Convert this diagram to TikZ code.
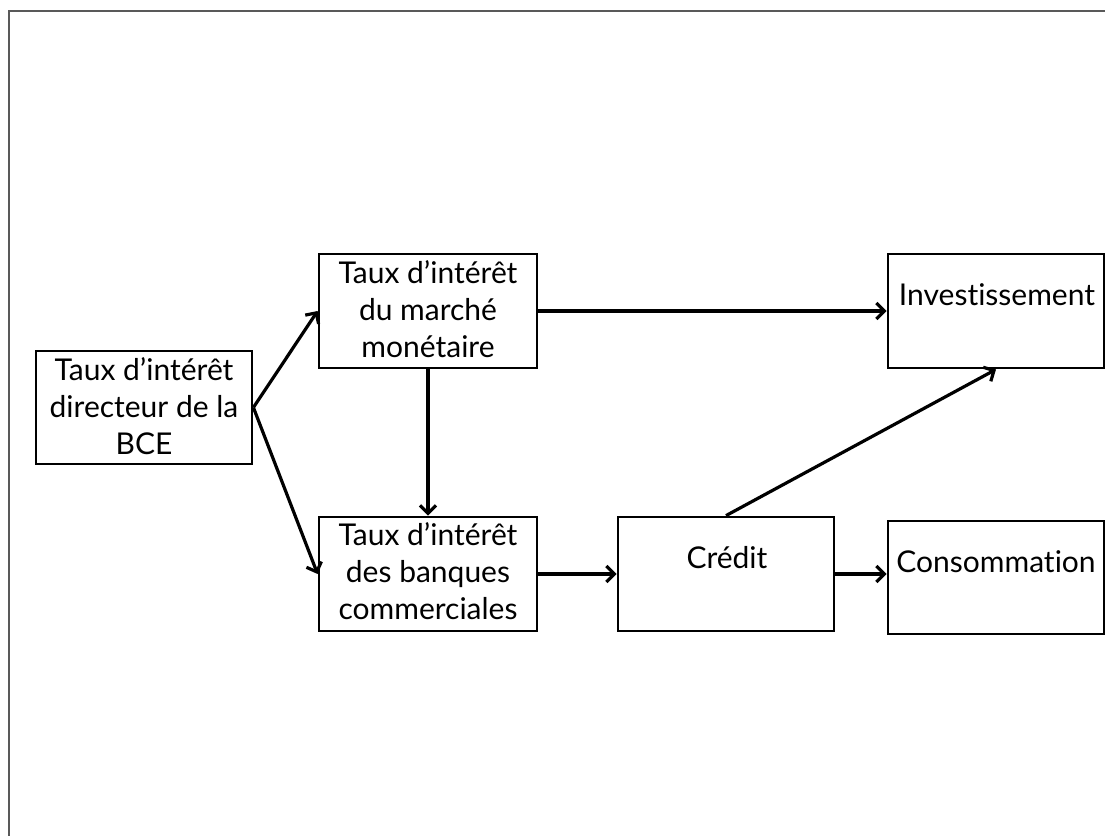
\documentclass[tikz,border=0pt]{standalone}
\usepackage{fontspec}
\setmainfont{Lato}[Ligatures={NoCommon}]
\usetikzlibrary{arrows.meta}
\begin{document}
\begin{tikzpicture}[x=1pt,y=-1pt,
  box/.style={draw=black,line width=2.8pt,rectangle,inner sep=0pt},
  lbl/.style={align=center,font=\fontsize{30}{37}\selectfont,inner sep=0pt},
  arr/.style={line width=3.2pt,-{Straight Barb[length=8pt,width=16pt,line width=3.2pt]}},
  frame/.style={draw=black!65,line width=1.6pt}]
\useasboundingbox (0,0) rectangle (1105,835);
\fill[white] (0,0) rectangle (1105,835);
\draw[frame] (9,840) -- (9,11) -- (1110,11);
% boxes
\node[box,minimum width=216pt,minimum height=113pt] (A) at (144,407.5) {};
\node[box,minimum width=218pt,minimum height=114pt] (B) at (428,311) {};
\node[box,minimum width=218pt,minimum height=114pt] (C) at (428,574) {};
\node[box,minimum width=216pt,minimum height=114pt] (K) at (726,574) {};
\node[box,minimum width=216pt,minimum height=114pt] (I) at (996,311) {};
\node[box,minimum width=216pt,minimum height=113pt] (S) at (996,577.5) {};
% labels
\node[lbl] (tA) at (144,406) {Taux d’intérêt\\directeur de la\\BCE};
\node[lbl] (tB) at (428,309) {Taux d’intérêt\\du marché\\monétaire};
\node[lbl] (tC) at (428,571) {Taux d’intérêt\\des banques\\commerciales};
\node[lbl] (tK) at (727,558) {Crédit};
\node[lbl] (tI) at (997,295) {Investissement};
\node[lbl] (tS) at (996,562) {Consommation};
% connectors
\draw[arr] (A.east) -- (B.west);
\draw[arr] (A.east) -- (C.west);
\draw[arr] (B.south) -- (C.north);
\draw[arr] (B.east) -- (I.west);
\draw[arr] (C.east) -- (K.west);
\draw[arr] (K.north) -- (I.south);
\draw[arr] (K.east) -- (K.east -| S.west);
\end{tikzpicture}
\end{document}
